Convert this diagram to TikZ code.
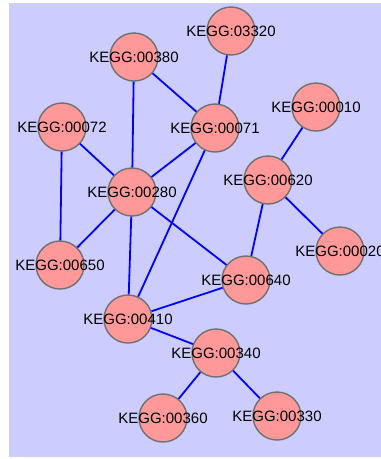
\documentclass[tikz,border=0pt]{standalone}
\usepackage{fontspec}
\setmainfont{Liberation Sans}
\definecolor{panel}{HTML}{CCCCFF}
\definecolor{nodefill}{HTML}{FF9999}
\definecolor{nodeline}{HTML}{707070}
\definecolor{edgeblue}{HTML}{0000FF}
\begin{document}
\begin{tikzpicture}[x=1pt,y=-1pt,
  kegg/.style={circle,draw=nodeline,line width=1.4pt,fill=nodefill,
    minimum size=48pt,inner sep=0pt},
  klabel/.style={font=\fontsize{15}{15}\selectfont,text=black,inner sep=0pt},
  link/.style={draw=edgeblue,line width=1.8pt}]
  % canvas and panel
  \fill[white] (0,0) rectangle (381,459);
  \useasboundingbox (0,0) rectangle (381,459);
  \fill[panel] (9,3) rectangle (381,457);

  % node positions
  \coordinate (p03320) at (231,31);
  \coordinate (p00380) at (134,57);
  \coordinate (p00072) at (62,127);
  \coordinate (p00071) at (215,128);
  \coordinate (p00010) at (316,107);
  \coordinate (p00620) at (268,180);
  \coordinate (p00280) at (132,192);
  \coordinate (p00020) at (340,251);
  \coordinate (p00650) at (60,265);
  \coordinate (p00640) at (246,280);
  \coordinate (p00410) at (128,319);
  \coordinate (p00340) at (216,353);
  \coordinate (p00360) at (163,418);
  \coordinate (p00330) at (277,416);

  % circles
  \foreach \k in {03320,00380,00072,00071,00010,00620,00280,00020,00650,00640,00410,00340,00360,00330}
    \node[kegg] (n\k) at (p\k) {};

  % connectors, clipped at the circle borders
  \foreach \a/\b in {03320/00071,00380/00071,00380/00280,00072/00280,00072/00650,
      00071/00280,00071/00410,00010/00620,00620/00020,00620/00640,
      00280/00650,00280/00640,00280/00410,00410/00640,00410/00340,
      00340/00360,00340/00330}
    \path[link] (n\a) -- (n\b);

  % labels on top
  \foreach \k in {03320,00380,00072,00071,00010,00620,00280,00020,00650,00640,00410,00340,00360,00330}
    \node[klabel] (t\k) at (p\k) {KEGG:\k};
\end{tikzpicture}
\end{document}
